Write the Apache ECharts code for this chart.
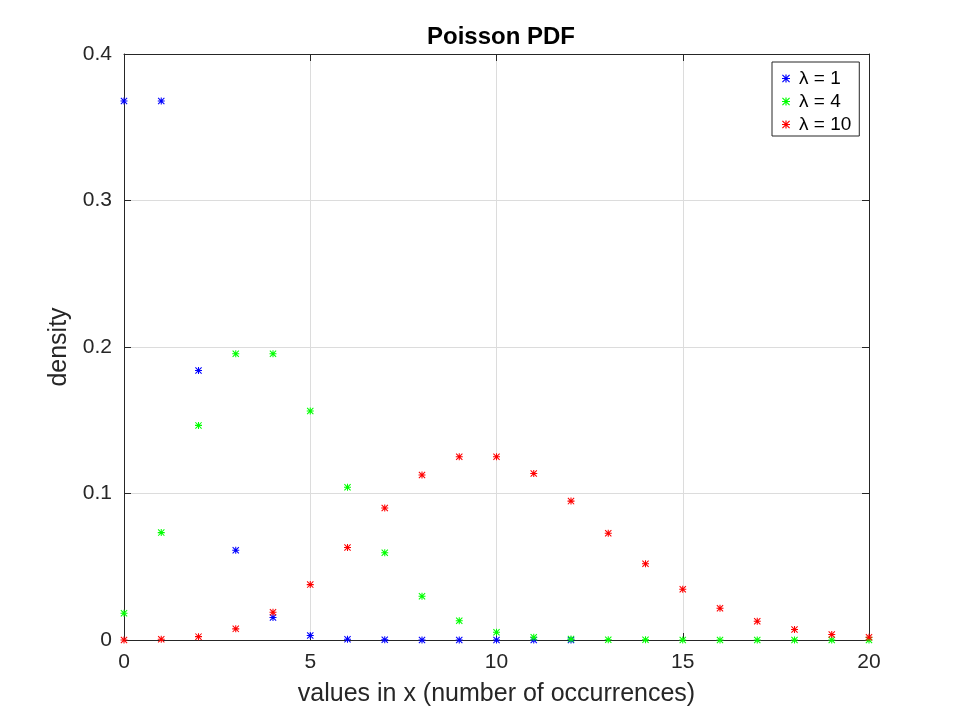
<!DOCTYPE html>
<html>
<head>
<meta charset="utf-8">
<script src="https://cdn.jsdelivr.net/npm/echarts@6/dist/echarts.min.js"></script>
<style>
  html, body { margin: 0; padding: 0; background: #fff; }
  #chart { width: 960px; height: 720px; }
</style>
</head>
<body>
<div id="chart"></div>
<script>
// x values (number of occurrences)
const xValues = [0, 1, 2, 3, 4, 5, 6, 7, 8, 9, 10, 11, 12, 13, 14, 15, 16, 17, 18, 19, 20];

// densities
const lambda1 = [0.3679, 0.3679, 0.1839, 0.0613, 0.0153, 0.0031, 0.0005, 0.0001, 0.0000, 0.0000, 0.0000, 0.0000, 0.0000];
const lambda4 = [0.0183, 0.0733, 0.1465, 0.1954, 0.1954, 0.1563, 0.1042, 0.0595, 0.0298, 0.0132, 0.0053,
                 0.0019, 0.0006, 0.0002, 0.0001, 0.0000, 0.0000, 0.0000, 0.0000, 0.0000, 0.0000];
const lambda10 = [0.0000, 0.0005, 0.0023, 0.0076, 0.0189, 0.0378, 0.0631, 0.0901, 0.1126, 0.1251, 0.1251,
                  0.1137, 0.0948, 0.0729, 0.0521, 0.0347, 0.0217, 0.0128, 0.0071, 0.0037, 0.0019];

const seriesNames = ['λ = 1', 'λ = 4', 'λ = 10'];
const seriesColors = ['#0000ff', '#00ff00', '#ff0000'];

const FONT = '"Liberation Sans", Arial, sans-serif';
const INK = '#262626';

// asterisk marker (octave '*')
const star = 'path://M4.25,0h1.5v10h-1.5z M0,4.25h10v1.5h-10z M0,1.05L1.05,0L10,8.95L8.95,10z M8.95,0L10,1.05L1.05,10L0,8.95z';

const pairs = (vals) => vals.map((v, i) => [xValues[i], v]);

var chart = echarts.init(document.getElementById('chart'));

// box axes (top / right): line + inward ticks only
const plainAxis = {
  axisLine: { show: true, onZero: false, lineStyle: { color: INK, width: 1 } },
  axisTick: { show: true, inside: true, length: 7, lineStyle: { color: INK } },
  axisLabel: { show: false },
  splitLine: { show: false }
};

var option = {
  backgroundColor: '#fff',
  animation: false,
  title: {
    text: 'Poisson PDF',
    left: 496,
    top: 20,
    textAlign: 'center',
    textStyle: { fontFamily: FONT, fontSize: 24, fontWeight: 'bold', color: '#000' }
  },
  grid: { left: 124, right: 91, top: 54, bottom: 80 },
  legend: {
    orient: 'vertical',
    left: 772,
    top: 62,
    align: 'left',
    padding: [7, 8, 2, 10],
    itemGap: 4,
    itemWidth: 8,
    itemHeight: 8,
    backgroundColor: '#fff',
    borderColor: INK,
    borderWidth: 1,
    borderRadius: 0,
    textStyle: { fontFamily: FONT, fontSize: 19, color: '#000', padding: [0, 0, 0, 4] },
    data: seriesNames.map(n => ({ name: n, icon: star }))
  },
  xAxis: [
    {
      type: 'value',
      min: 0, max: 20, interval: 5,
      name: 'values in x (number of occurrences)',
      nameLocation: 'middle',
      nameGap: 42,
      nameTextStyle: { fontFamily: FONT, fontSize: 25, color: INK },
      axisLine: { show: true, onZero: false, lineStyle: { color: INK, width: 1 } },
      axisTick: { show: true, inside: true, length: 7, lineStyle: { color: INK } },
      axisLabel: { fontFamily: FONT, fontSize: 21, color: INK, margin: 12 },
      splitLine: { show: true, lineStyle: { color: '#dcdcdc', width: 1 } }
    },
    Object.assign({ type: 'value', gridIndex: 0, position: 'top', min: 0, max: 20, interval: 5 }, plainAxis)
  ],
  yAxis: [
    {
      type: 'value',
      min: 0, max: 0.4, interval: 0.1,
      name: 'density',
      nameLocation: 'middle',
      nameGap: 42,
      nameTextStyle: { fontFamily: FONT, fontSize: 25, color: INK },
      axisLine: { show: true, onZero: false, lineStyle: { color: INK, width: 1 } },
      axisTick: { show: true, inside: true, length: 7, lineStyle: { color: INK } },
      axisLabel: {
        fontFamily: FONT, fontSize: 21, color: INK, margin: 12,
        formatter: (v) => (v === 0 ? '0' : v.toFixed(1))
      },
      splitLine: { show: true, lineStyle: { color: '#dcdcdc', width: 1 } }
    },
    Object.assign({ type: 'value', gridIndex: 0, position: 'right', min: 0, max: 0.4, interval: 0.1 }, plainAxis)
  ],
  series: [lambda1, lambda4, lambda10].map((vals, i) => ({
    name: seriesNames[i],
    type: 'scatter',
    symbol: star,
    symbolSize: 7,
    itemStyle: { color: seriesColors[i], opacity: 1 },
    emphasis: { disabled: true },
    data: pairs(vals)
  }))
};

chart.setOption(option);
</script>
</body>
</html>
